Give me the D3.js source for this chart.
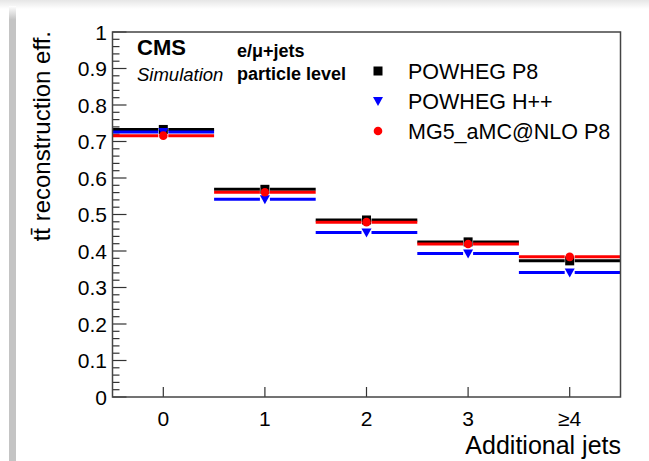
<!DOCTYPE html>
<html><head><meta charset="utf-8">
<script src="https://cdn.jsdelivr.net/npm/d3@7"></script>
<style>body{margin:0;background:#fff}svg{display:block}text{font-family:"Liberation Sans",Arial,sans-serif}</style>
</head><body><svg id="c" width="649" height="461"></svg>
<script>
const categories = ["0","1","2","3","≥4"];
const powhegP8 = [0.733, 0.569, 0.485, 0.425, 0.373];
const powhegHpp = [0.726, 0.542, 0.451, 0.393, 0.341];
const mg5 = [0.716, 0.561, 0.479, 0.419, 0.384];
const yTicks = [0,0.1,0.2,0.3,0.4,0.5,0.6,0.7,0.8,0.9,1];
const seriesNames = ["POWHEG P8","POWHEG H++","MG5_aMC@NLO P8"];

const svg = d3.select("#c");
const defs = svg.append("defs");
const g1 = defs.append("linearGradient").attr("id","topsh").attr("x1",0).attr("y1",0).attr("x2",0).attr("y2",1);
g1.append("stop").attr("offset","0%").attr("stop-color","#e6e6e6");
g1.append("stop").attr("offset","100%").attr("stop-color","#ffffff");
svg.append("rect").attr("x",0).attr("y",0).attr("width",649).attr("height",9).attr("fill","url(#topsh)");
const g2 = defs.append("linearGradient").attr("id","leftbar").attr("x1",0).attr("y1",0).attr("x2",0).attr("y2",1);
g2.append("stop").attr("offset","0%").attr("stop-color","#ffffff");
g2.append("stop").attr("offset","3%").attr("stop-color","#c4c4c4");
g2.append("stop").attr("offset","100%").attr("stop-color","#c4c4c4");
svg.append("rect").attr("x",9).attr("y",6).attr("width",7).attr("height",455).attr("fill","url(#leftbar)");

const L=112.5, R=620.5, T=32, B=397;
const x = d3.scaleBand().domain(categories).range([L,R]).padding(0);
const y = d3.scaleLinear().domain([0,1]).range([B,T]);

// y axis ticks
const minor = d3.range(0,1.0001,0.02);
svg.append("g").selectAll("line").data(minor).join("line")
  .attr("x1",L).attr("x2",d=> (Math.abs(d*10-Math.round(d*10))<1e-6)? L+14 : L+7)
  .attr("y1",d=>y(d)).attr("y2",d=>y(d)).attr("stroke","#333").attr("stroke-width",1.2);
svg.append("g").selectAll("text").data(yTicks).join("text")
  .attr("x",107).attr("y",d=>y(d)+7.5).attr("text-anchor","end").attr("font-size",21).attr("fill","#000")
  .text(d=>d3.format("~g")(d));
// x ticks
svg.append("g").selectAll("line").data(categories).join("line")
  .attr("x1",d=>x(d)+x.bandwidth()/2).attr("x2",d=>x(d)+x.bandwidth()/2)
  .attr("y1",B).attr("y2",B-10).attr("stroke","#333").attr("stroke-width",1.2);
svg.append("g").selectAll("text").data(categories).join("text")
  .attr("x",d=>x(d)+x.bandwidth()/2).attr("y",426).attr("text-anchor","middle").attr("font-size",21)
  .text(d=>d);

// series
const series = [
  {name:seriesNames[0], vals:powhegP8, color:"#000000", shape:"square"},
  {name:seriesNames[1], vals:powhegHpp, color:"#0000ff", shape:"tri"},
  {name:seriesNames[2], vals:mg5, color:"#ff0000", shape:"circle"}
];
function marker(sel, shape, color){
  if(shape==="square") sel.append("rect").attr("x",-4.5).attr("y",-4.5).attr("width",9).attr("height",9).attr("fill",color);
  else if(shape==="tri") sel.append("path").attr("d","M-5,-4L5,-4L0,5Z").attr("fill",color);
  else sel.append("circle").attr("r",4.3).attr("fill",color);
}
series.forEach(s=>{
  const gg = svg.append("g");
  categories.forEach((c,i)=>{
    const yy = y(s.vals[i]);
    const cx = x(c)+x.bandwidth()/2;
    gg.append("line").attr("x1",x(c)).attr("x2",cx-5).attr("y1",yy).attr("y2",yy).attr("stroke",s.color).attr("stroke-width",3);
    gg.append("line").attr("x1",cx+5).attr("x2",x(c)+x.bandwidth()).attr("y1",yy).attr("y2",yy).attr("stroke",s.color).attr("stroke-width",3);
    const m = gg.append("g").attr("transform",`translate(${cx},${yy})`);
    marker(m, s.shape, s.color);
  });
});

// frame
svg.append("rect").attr("x",L).attr("y",T).attr("width",R-L).attr("height",B-T)
  .attr("fill","none").attr("stroke","#444").attr("stroke-width",1.5);

// texts
svg.append("text").attr("x",137).attr("y",55).attr("font-size",22).attr("font-weight","bold").text("CMS");
svg.append("text").attr("x",137).attr("y",81).attr("font-size",18.5).attr("font-style","italic").text("Simulation");
svg.append("text").attr("x",237).attr("y",57).attr("font-size",18).attr("font-weight","bold").text("e/μ+jets");
svg.append("text").attr("x",237).attr("y",80).attr("font-size",18).attr("font-weight","bold").text("particle level");

// legend
series.forEach((s,i)=>{
  const yy = 71 + i*30;
  const m = svg.append("g").attr("transform",`translate(378,${yy})`);
  marker(m, s.shape, s.color);
  svg.append("text").attr("x",408).attr("y",yy+7.5).attr("font-size",21.5).text(s.name);
});

// axis titles
svg.append("text").attr("x",621).attr("y",454).attr("text-anchor","end").attr("font-size",25).text("Additional jets");
svg.append("text").attr("transform","translate(50,31) rotate(-90)").attr("text-anchor","end").attr("font-size",24)
  .text("tt\u0304 reconstruction eff.");
</script></body></html>
